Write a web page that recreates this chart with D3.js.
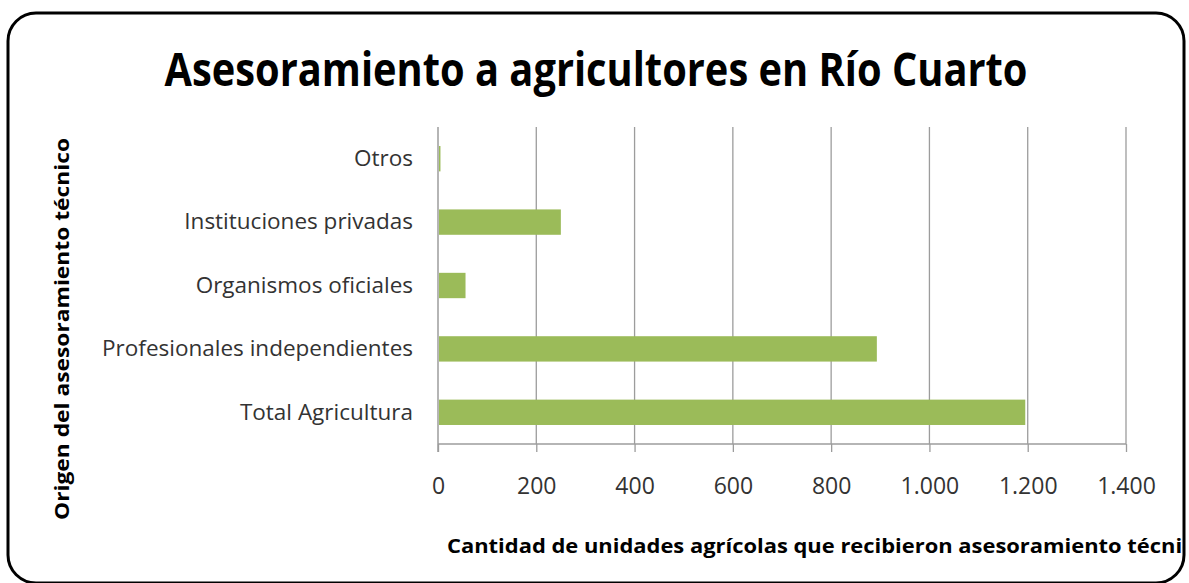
<!DOCTYPE html>
<html>
<head>
<meta charset="utf-8">
<script src="https://cdn.jsdelivr.net/npm/d3@7"></script>
<style>
  body { margin: 0; background: #fff; }
  svg { display: block; }
</style>
</head>
<body>
<svg id="SVG_CONTAINER" width="1189" height="583"></svg>
<script>
// data
const categories = ["Otros", "Instituciones privadas", "Organismos oficiales",
                    "Profesionales independientes", "Total Agricultura"];
const values = [5, 250, 56, 893, 1195];
const tickValues = [0, 200, 400, 600, 800, 1000, 1200, 1400];

const titleText = "Asesoramiento a agricultores en Río Cuarto";
const xTitle = "Cantidad de unidades agrícolas que recibieron asesoramiento técnico";
const yTitle = "Origen del asesoramiento técnico";

const MARGIN = { LEFT: 438, RIGHT: 63, TOP: 127, BOTTOM: 139 };
const width = 1189, height = 583;

const esLocale = d3.formatLocale({ decimal: ",", thousands: ".", grouping: [3], currency: ["", ""] });

let svg = d3.select("#SVG_CONTAINER");

// frame with rounded corners; also used to clip the x title
svg.append("defs").append("clipPath").attr("id", "frameClip")
    .append("rect")
    .attr("x", 8).attr("y", 13).attr("width", 1176).attr("height", 570).attr("rx", 28);

svg.append("rect")
    .attr("x", 8).attr("y", 13)
    .attr("width", 1176).attr("height", 570)
    .attr("rx", 28)
    .style("fill", "#fff")
    .style("stroke", "#000")
    .style("stroke-width", 3);

// scales
let xScale = d3.scaleLinear()
    .domain([0, 1400])
    .range([MARGIN.LEFT, width - MARGIN.RIGHT]);

let yScale = d3.scaleBand()
    .domain(categories)
    .range([MARGIN.TOP, height - MARGIN.BOTTOM])
    .paddingInner(0.6)
    .paddingOuter(0.3);

let chart = svg.append("g");

// vertical gridlines
chart.append("g")
    .selectAll("line")
    .data(tickValues.slice(1))
    .enter()
    .append("line")
    .attr("x1", d => xScale(d)).attr("x2", d => xScale(d))
    .attr("y1", MARGIN.TOP).attr("y2", height - MARGIN.BOTTOM)
    .style("stroke", "#9c9c9c")
    .style("stroke-width", 1.3);

// x axis
let xAxis = d3.axisBottom(xScale)
    .tickValues(tickValues)
    .tickFormat(esLocale.format(",d"))
    .tickSize(8)
    .tickPadding(26);

let xg = chart.append("g")
    .attr("transform", "translate(0," + (height - MARGIN.BOTTOM) + ")")
    .call(xAxis);
xg.select(".domain").attr("d", "M" + MARGIN.LEFT + ",0H" + (width - MARGIN.RIGHT))
    .style("stroke", "#9c9c9c").style("stroke-width", 1.5);
xg.selectAll(".tick line").style("stroke", "#9c9c9c").style("stroke-width", 1.3);
xg.selectAll(".tick text")
    .style("font-family", "'Open Sans', sans-serif")
    .style("font-size", "23px")
    .style("fill", "#333");

// y axis
let yAxis = d3.axisLeft(yScale).tickSize(0).tickPadding(25);
let yg = chart.append("g")
    .attr("transform", "translate(" + MARGIN.LEFT + ",0)")
    .call(yAxis);
yg.select(".domain").attr("d", "M0," + MARGIN.TOP + "V" + (height - MARGIN.BOTTOM + 8))
    .style("stroke", "#9c9c9c").style("stroke-width", 1.5);
yg.selectAll(".tick text")
    .style("font-family", "'Open Sans', sans-serif")
    .style("font-size", "22.5px")
    .style("fill", "#333");

// bars
chart.append("g")
    .selectAll("rect")
    .data(values)
    .enter()
    .append("rect")
    .attr("x", xScale(0) + 1)
    .attr("y", (d, i) => yScale(categories[i]))
    .attr("width", d => xScale(d) - xScale(0) - 1)
    .attr("height", yScale.bandwidth())
    .style("fill", "#9bbb59");

// title
svg.append("text")
    .attr("x", 596).attr("y", 86)
    .attr("text-anchor", "middle")
    .attr("textLength", 863)
    .attr("lengthAdjust", "spacingAndGlyphs")
    .style("font-family", "'Open Sans', sans-serif")
    .style("font-weight", "bold")
    .style("font-size", "47px")
    .style("fill", "#000")
    .text(titleText);

// x title, clipped at the frame
svg.append("text")
    .attr("clip-path", "url(#frameClip)")
    .attr("x", 447).attr("y", 553)
    .attr("textLength", 760)
    .attr("lengthAdjust", "spacingAndGlyphs")
    .style("font-family", "'Open Sans', sans-serif")
    .style("font-weight", "bold")
    .style("font-size", "20px")
    .style("fill", "#000")
    .text(xTitle);

// y title
svg.append("text")
    .attr("transform", "translate(69,329) rotate(-90)")
    .attr("text-anchor", "middle")
    .attr("textLength", 382)
    .attr("lengthAdjust", "spacingAndGlyphs")
    .style("font-family", "'Open Sans', sans-serif")
    .style("font-weight", "bold")
    .style("font-size", "20px")
    .style("fill", "#000")
    .text(yTitle);
</script>
</body>
</html>
